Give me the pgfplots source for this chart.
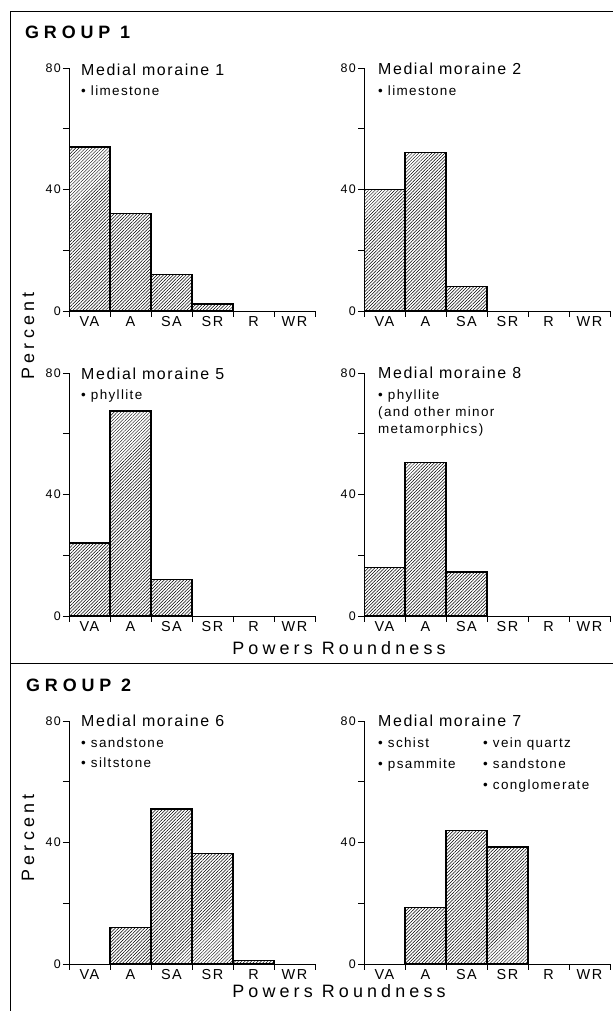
\documentclass[border=0pt]{standalone}
\usepackage{fontspec}
\setmainfont[LetterSpace=10]{Liberation Sans}
\newfontfamily\spacedfont[LetterSpace=23]{Liberation Sans}
\newfontfamily\groupfont[LetterSpace=27]{Liberation Sans}
\usepackage{pgfplots}
\pgfplotsset{compat=1.18}
\usetikzlibrary{patterns.meta}

\pgfplotsset{
  moraine/.style={
    scale only axis, width=246bp, height=243bp,
    anchor=south west,
    xmin=0, xmax=6, ymin=0, ymax=80,
    axis x line=bottom, axis y line=left,
    axis line style={-, line width=0.9bp},
    ybar, bar width=1,
    xtick={0,1,...,6}, xticklabels={},
    extra x ticks={0.5,1.5,2.5,3.5,4.5,5.5},
    extra x tick labels={VA,A,SA,SR,R,WR},
    extra x tick style={major tick length=0pt},
    ytick={0,20,40,60,80}, yticklabels={0,{},40,{},80},
    tick align=outside,
    major tick length=6bp,
    tick style={black, line width=0.8bp},
    /pgf/number format/assume math mode=true,
    xticklabel style={font=\fontsize{14.5}{14.5}\selectfont, inner sep=2bp, yshift=-3.5bp},
    yticklabel style={font=\fontsize{12.5}{12.5}\selectfont, inner sep=2bp},
  },
  hatchbar/.style={draw=black, line width=1.2bp,
    pattern={Lines[angle=45,distance=2.3bp,line width=0.5bp]}},
}

\newcommand{\ttl}[1]{\fontsize{16}{16}\selectfont #1}
\newcommand{\sub}[1]{\fontsize{13.5}{13.5}\selectfont #1}

\begin{document}
\begin{tikzpicture}
\path[use as bounding box] (0,0) rectangle (613bp,1011bp);

% frame
\draw[line width=1bp] (10.5bp,0bp) -- (10.5bp,999.5bp) -- (613bp,999.5bp);
\draw[line width=1bp] (10.5bp,347.5bp) -- (613bp,347.5bp);

% Panel 1
\begin{axis}[moraine, at={(69bp,700bp)}]
\addplot[hatchbar] coordinates {(0.5,54) (1.5,32) (2.5,12) (3.5,2.3)};
\end{axis}
% Panel 2
\begin{axis}[moraine, at={(364bp,700bp)}]
\addplot[hatchbar] coordinates {(0.5,40) (1.5,52.3) (2.5,8)};
\end{axis}
% Panel 5
\begin{axis}[moraine, at={(69bp,395bp)}]
\addplot[hatchbar] coordinates {(0.5,24) (1.5,67.5) (2.5,12)};
\end{axis}
% Panel 8
\begin{axis}[moraine, at={(364bp,395bp)}]
\addplot[hatchbar] coordinates {(0.5,16) (1.5,50.5) (2.5,14.5)};
\end{axis}
% Panel 6
\begin{axis}[moraine, at={(69bp,47bp)}]
\addplot[hatchbar] coordinates {(1.5,12) (2.5,51) (3.5,36.5) (4.5,1.2)};
\end{axis}
% Panel 7
\begin{axis}[moraine, at={(364bp,47bp)}]
\addplot[hatchbar] coordinates {(1.5,18.5) (2.5,44) (3.5,38.5)};
\end{axis}

% group headings
\node[anchor=base west, inner sep=0] at (25bp,972bp) {\groupfont\bfseries\fontsize{18}{18}\selectfont GROUP 1};
\node[anchor=base west, inner sep=0] at (26bp,319bp) {\groupfont\bfseries\fontsize{18}{18}\selectfont GROUP 2};

% panel titles
\node[anchor=base west, inner sep=0] at (81bp,935bp) {\ttl{Medial moraine 1}};
\node[anchor=base west, inner sep=0] at (81bp,915.3bp) {\sub{• limestone}};

\node[anchor=base west, inner sep=0] at (378bp,936bp) {\ttl{Medial moraine 2}};
\node[anchor=base west, inner sep=0] at (378bp,915.3bp) {\sub{• limestone}};

\node[anchor=base west, inner sep=0] at (81bp,631bp) {\ttl{Medial moraine 5}};
\node[anchor=base west, inner sep=0] at (81bp,611bp) {\sub{• phyllite}};

\node[anchor=base west, inner sep=0] at (378bp,632bp) {\ttl{Medial moraine 8}};
\node[anchor=base west, inner sep=0] at (378bp,611bp) {\sub{• phyllite}};
\node[anchor=base west, inner sep=0] at (378bp,594.3bp) {\sub{(and other minor}};
\node[anchor=base west, inner sep=0] at (378bp,577bp) {\sub{metamorphics)}};

\node[anchor=base west, inner sep=0] at (81bp,284.3bp) {\ttl{Medial moraine 6}};
\node[anchor=base west, inner sep=0] at (81bp,263.7bp) {\sub{• sandstone}};
\node[anchor=base west, inner sep=0] at (81bp,243bp) {\sub{• siltstone}};

\node[anchor=base west, inner sep=0] at (378bp,284.3bp) {\ttl{Medial moraine 7}};
\node[anchor=base west, inner sep=0] at (378bp,263bp) {\sub{• schist}};
\node[anchor=base west, inner sep=0] at (378bp,242bp) {\sub{• psammite}};
\node[anchor=base west, inner sep=0] at (483bp,263bp) {\sub{• vein quartz}};
\node[anchor=base west, inner sep=0] at (483bp,242bp) {\sub{• sandstone}};
\node[anchor=base west, inner sep=0] at (483bp,221.7bp) {\sub{• conglomerate}};

% axis titles
\node[anchor=base, inner sep=0] at (339bp,356bp) {\spacedfont\fontsize{18}{18}\selectfont Powers Roundness};
\node[anchor=base, inner sep=0] at (339bp,13.5bp) {\spacedfont\fontsize{18}{18}\selectfont Powers Roundness};
\node[rotate=90, inner sep=0] at (28bp,675bp) {\spacedfont\fontsize{18}{18}\selectfont Percent};
\node[rotate=90, inner sep=0] at (28bp,173bp) {\spacedfont\fontsize{18}{18}\selectfont Percent};
\end{tikzpicture}
\end{document}
